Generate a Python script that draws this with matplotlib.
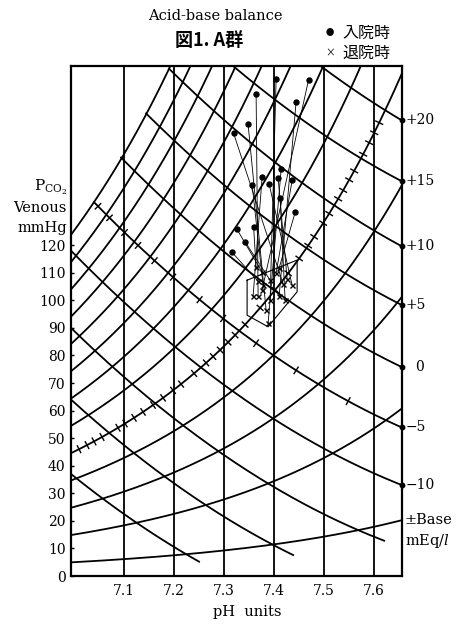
import numpy as np
import matplotlib
matplotlib.use("Agg")
import matplotlib.pyplot as plt

plt.rcParams["mathtext.fontset"] = "dejavuserif"

# ---------------- axis ranges / ticks ----------------
PH_MIN, PH_MAX = 6.995, 7.656
PCO2_MAX = 185.0
ph_ticks = [7.1, 7.2, 7.3, 7.4, 7.5, 7.6]
pco2_ticks = list(range(0, 130, 10))

# ---------------- rising isopleths (PCO2 at pH 7.0) ----------------
iso_p0 = [5, 15, 25, 35, 45, 55, 65, 75, 85, 95, 105, 115, 125]
iso_lin, iso_quad = 0.86, 0.10
ticked_iso = 45
ticked_iso_ph = [7.011, 7.027, 7.041, 7.057, 7.089, 7.103, 7.121, 7.139, 7.159,
                 7.179, 7.199, 7.215, 7.241, 7.265, 7.279, 7.293, 7.309, 7.323,
                 7.343, 7.373, 7.403, 7.429, 7.451, 7.469, 7.481, 7.499, 7.511,
                 7.529, 7.539, 7.551, 7.561, 7.579, 7.591, 7.601, 7.611]

# ---------------- base excess lines ----------------
be_values = [20, 15, 10, 5, 0, -5, -10, -15, -20, -25]
be_start_ph = [7.494, 7.319, 7.191, 7.145, 7.095, 7.041, 6.995, 6.995, 6.995, 6.995]
be_start_p = [185.0, 185.0, 184.0, 167.8, 151.8, 135.6, 118.0, 90.0, 64.0, 37.0]
be_end_ph = [7.656, 7.656, 7.656, 7.656, 7.656, 7.656, 7.656, 7.621, 7.439, 7.251]
be_end_p = [165.3, 143.2, 119.6, 98.3, 75.8, 53.9, 33.0, 12.8, 7.6, 5.2]
be_sag = 86.0
be_labels = ["+20", "+15", "+10", "+5", "0", "\u22125", "\u221210"]
ticked_be = -5
ticked_be_ph = [7.049, 7.072, 7.102, 7.129, 7.162, 7.199, 7.252, 7.299, 7.365,
                7.445, 7.549]

# ---------------- patient data ----------------
adm_ph = [7.405, 7.470, 7.365, 7.445, 7.349, 7.320, 7.415, 7.377, 7.409,
          7.437, 7.357, 7.391, 7.443, 7.360, 7.327, 7.343, 7.317, 7.413]
adm_pco2 = [180.3, 180.1, 174.7, 172.1, 163.8, 160.6, 147.5, 144.7, 144.3,
            143.5, 141.9, 142.2, 131.9, 126.6, 125.7, 121.2, 117.4, 137.1]
dis_ph = [7.393, 7.377, 7.369, 7.411, 7.385, 7.419, 7.389, 7.359, 7.427,
          7.405, 7.379, 7.437, 7.411, 7.365, 7.377, 7.393, 7.369, 7.423]
dis_pco2 = [100.1, 103.7, 101.5, 101.5, 96.4, 105.9, 91.7, 101.5, 107.7,
            109.9, 105.5, 105.5, 111.7, 112.0, 110.2, 107.3, 106.9, 100.1]

# normal-range box
norm_ph = [7.347, 7.347, 7.389, 7.447, 7.447, 7.347]
norm_pco2 = [107.3, 94.6, 90.4, 103.1, 114.6, 107.3]

# ---------------- figure ----------------
W, H = 462, 625
fig = plt.figure(figsize=(W / 100, H / 100), dpi=100)
L, R, T, B = 71, 401.7, 66, 576
ax = fig.add_axes([L / W, 1 - B / H, (R - L) / W, (B - T) / H])
ax.set_xlim(PH_MIN, PH_MAX)
ax.set_ylim(0, PCO2_MAX)
sx = (R - L) / (PH_MAX - PH_MIN)   # px per pH unit
sy = (B - T) / PCO2_MAX            # px per mmHg

SERIF = "DejaVu Serif"
CJK = ["Noto Sans CJK JP", "DejaVu Sans"]
LW = 1.3


def iso_curve(p0, ph):
    t = np.asarray(ph) - 7.0
    return p0 * 10 ** (iso_lin * t + iso_quad * t * t)


def be_curve(i, ph):
    ph = np.asarray(ph)
    a, b = be_start_ph[i], be_end_ph[i]
    pa, pb = be_start_p[i], be_end_p[i]
    return pa + (pb - pa) * (ph - a) / (b - a) - be_sag * (ph - a) * (b - ph)


def draw_ticks(func, phs, half=4.5):
    for ph in phs:
        p = func(ph)
        d = (func(ph + 1e-4) - func(ph - 1e-4)) / 2e-4
        tx, ty = sx, sy * d
        n = np.hypot(tx, ty)
        nx, ny = -ty / n, tx / n
        ax.plot([ph - nx * half / sx, ph + nx * half / sx],
                [p - ny * half / sy, p + ny * half / sy],
                color="black", lw=1.0, solid_capstyle="butt")


# vertical pH lines
for ph in ph_ticks:
    ax.axvline(ph, color="black", lw=LW)

# rising isopleths
ph_grid = np.linspace(PH_MIN, PH_MAX, 400)
for p0 in iso_p0:
    ax.plot(ph_grid, iso_curve(p0, ph_grid), color="black", lw=LW)
draw_ticks(lambda x: iso_curve(ticked_iso, x), ticked_iso_ph)

# base excess lines
for i, be in enumerate(be_values):
    g = np.linspace(be_start_ph[i], be_end_ph[i], 200)
    ax.plot(g, be_curve(i, g), color="black", lw=LW)
    if be == ticked_be:
        draw_ticks(lambda x, i=i: be_curve(i, x), ticked_be_ph)

# right-edge markers and labels
for i, lab in enumerate(be_labels):
    ax.plot([PH_MAX], [be_end_p[i]], marker="o", ms=3.2, color="black",
            clip_on=False, zorder=5)
    xoff = 13 if lab == "0" else 4
    ax.annotate(lab, (PH_MAX, be_end_p[i]), xytext=(xoff, 0),
                textcoords="offset pixels", ha="left", va="center",
                fontsize=10, family=SERIF, annotation_clip=False)

# normal box
ax.plot(norm_ph, norm_pco2, color="black", lw=0.8)

# patient trajectories
for a_ph, a_p, d_ph, d_p in zip(adm_ph, adm_pco2, dis_ph, dis_pco2):
    ax.plot([a_ph, d_ph], [a_p, d_p], color="black", lw=0.6)
ax.plot(adm_ph, adm_pco2, "o", color="black", ms=3.6, zorder=6)
ax.plot(dis_ph, dis_pco2, "x", color="black", ms=3.6, mew=1.0, zorder=6)

# axes styling
for s in ax.spines.values():
    s.set_linewidth(1.6)
ax.set_xticks(ph_ticks)
ax.set_xticklabels([f"{v:.1f}" for v in ph_ticks], family=SERIF, fontsize=10)
ax.set_yticks(pco2_ticks)
ax.set_yticklabels([str(v) for v in pco2_ticks], family=SERIF, fontsize=10)
ax.tick_params(axis="x", length=0, pad=6)
ax.tick_params(axis="y", direction="in", length=2.5, width=1.0, pad=4)


# texts
def fx(px):
    return px / W


def fy(py):
    return 1 - py / H


fig.text(fx(215), fy(16), "Acid-base balance", ha="center", va="center",
         family=SERIF, fontsize=10.5)
fig.text(fx(209), fy(40), "図1. A群", ha="center", va="center",
         family=CJK, fontsize=13, weight="bold")
fig.text(fx(330), fy(33), "●", ha="center", va="center", family=CJK, fontsize=6)
fig.text(fx(342), fy(33), "入院時", ha="left", va="center", family=CJK,
         fontsize=11.5)
fig.text(fx(330), fy(53), "×", ha="center", va="center", family=CJK, fontsize=7)
fig.text(fx(342), fy(53), "退院時", ha="left", va="center", family=CJK,
         fontsize=11.5)

fig.text(fx(67), fy(187), r"P$_{\mathrm{CO}_{2}}$", ha="right", va="center",
         family=SERIF, fontsize=11)
fig.text(fx(67), fy(208), "Venous", ha="right", va="center", family=SERIF,
         fontsize=10.5)
fig.text(fx(67), fy(228), "mmHg", ha="right", va="center", family=SERIF,
         fontsize=10.5)

fig.text(fx(247), fy(612), "pH  units", ha="center", va="center",
         family=SERIF, fontsize=10.5)
fig.text(fx(405), fy(520), "\u00b1Base", ha="left", va="center",
         family=SERIF, fontsize=10.5)
fig.text(fx(405), fy(541), r"mEq/$l$", ha="left", va="center",
         family=SERIF, fontsize=10.5)

fig.savefig("out.png", dpi=100)
